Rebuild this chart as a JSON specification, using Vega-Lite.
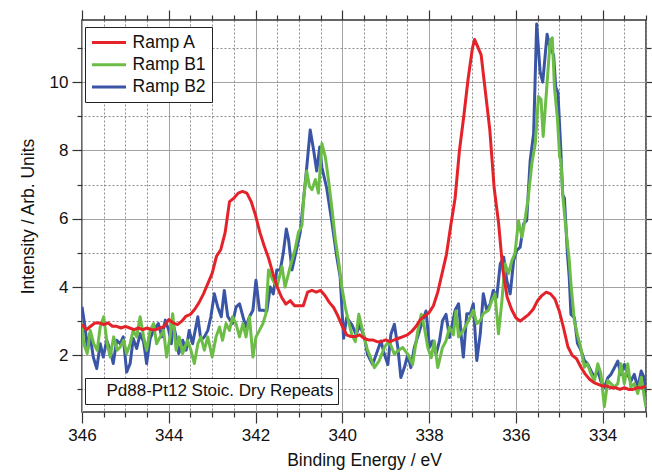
{
"$schema": "https://vega.github.io/schema/vega-lite/v6.json",
"width": 564, "height": 392,
"autosize": {"type": "none"},
"padding": {"left": 82, "top": 20, "right": 6, "bottom": 61},
"background": "white",
"config": {"font": "Liberation Sans", "view": {"stroke": "#333", "strokeWidth": 1.5},
  "axis": {"domain": false, "labelFlush": false, "labelOverlap": false, "tickColor": "#333", "tickWidth": 1.2}},
"data": {"values": [
{"s":"Ramp B2","E":346.0,"I":3.42},{"s":"Ramp B2","E":345.93,"I":2.83},{"s":"Ramp B2","E":345.87,"I":2.15},{"s":"Ramp B2","E":345.82,"I":2.63},{"s":"Ramp B2","E":345.74,"I":1.95},{"s":"Ramp B2","E":345.66,"I":1.61},{"s":"Ramp B2","E":345.58,"I":2.34},{"s":"Ramp B2","E":345.51,"I":1.95},{"s":"Ramp B2","E":345.43,"I":2.44},{"s":"Ramp B2","E":345.35,"I":2.15},{"s":"Ramp B2","E":345.28,"I":1.76},{"s":"Ramp B2","E":345.2,"I":2.44},{"s":"Ramp B2","E":345.12,"I":2.34},{"s":"Ramp B2","E":345.05,"I":2.54},{"s":"Ramp B2","E":344.97,"I":1.51},{"s":"Ramp B2","E":344.89,"I":1.76},{"s":"Ramp B2","E":344.82,"I":2.49},{"s":"Ramp B2","E":344.74,"I":2.2},{"s":"Ramp B2","E":344.66,"I":2.63},{"s":"Ramp B2","E":344.58,"I":2.39},{"s":"Ramp B2","E":344.51,"I":1.76},{"s":"Ramp B2","E":344.43,"I":2.49},{"s":"Ramp B2","E":344.35,"I":2.73},{"s":"Ramp B2","E":344.24,"I":2.93},{"s":"Ramp B2","E":344.16,"I":2.54},{"s":"Ramp B2","E":344.08,"I":3.03},{"s":"Ramp B2","E":344.0,"I":2.73},{"s":"Ramp B2","E":343.94,"I":2.34},{"s":"Ramp B2","E":343.9,"I":2.93},{"s":"Ramp B2","E":343.84,"I":2.6},{"s":"Ramp B2","E":343.77,"I":2.05},{"s":"Ramp B2","E":343.68,"I":2.44},{"s":"Ramp B2","E":343.6,"I":2.15},{"s":"Ramp B2","E":343.53,"I":2.73},{"s":"Ramp B2","E":343.45,"I":2.34},{"s":"Ramp B2","E":343.33,"I":3.13},{"s":"Ramp B2","E":343.26,"I":2.44},{"s":"Ramp B2","E":343.18,"I":2.54},{"s":"Ramp B2","E":343.1,"I":2.73},{"s":"Ramp B2","E":343.03,"I":3.13},{"s":"Ramp B2","E":342.95,"I":3.8},{"s":"Ramp B2","E":342.87,"I":3.41},{"s":"Ramp B2","E":342.79,"I":3.13},{"s":"Ramp B2","E":342.72,"I":3.9},{"s":"Ramp B2","E":342.64,"I":3.13},{"s":"Ramp B2","E":342.53,"I":2.93},{"s":"Ramp B2","E":342.45,"I":3.41},{"s":"Ramp B2","E":342.37,"I":3.51},{"s":"Ramp B2","E":342.29,"I":3.13},{"s":"Ramp B2","E":342.22,"I":2.83},{"s":"Ramp B2","E":342.14,"I":3.13},{"s":"Ramp B2","E":342.06,"I":3.32},{"s":"Ramp B2","E":341.99,"I":4.2},{"s":"Ramp B2","E":341.91,"I":3.32},{"s":"Ramp B2","E":341.83,"I":3.32},{"s":"Ramp B2","E":341.74,"I":3.3},{"s":"Ramp B2","E":341.66,"I":4.0},{"s":"Ramp B2","E":341.59,"I":3.8},{"s":"Ramp B2","E":341.51,"I":4.5},{"s":"Ramp B2","E":341.43,"I":4.5},{"s":"Ramp B2","E":341.36,"I":5.0},{"s":"Ramp B2","E":341.29,"I":5.7},{"s":"Ramp B2","E":341.24,"I":5.4},{"s":"Ramp B2","E":341.16,"I":4.5},{"s":"Ramp B2","E":341.09,"I":4.9},{"s":"Ramp B2","E":340.97,"I":5.6},{"s":"Ramp B2","E":340.89,"I":6.6},{"s":"Ramp B2","E":340.82,"I":7.5},{"s":"Ramp B2","E":340.74,"I":8.6},{"s":"Ramp B2","E":340.66,"I":8.0},{"s":"Ramp B2","E":340.59,"I":7.4},{"s":"Ramp B2","E":340.52,"I":8.1},{"s":"Ramp B2","E":340.47,"I":7.5},{"s":"Ramp B2","E":340.36,"I":6.9},{"s":"Ramp B2","E":340.24,"I":5.9},{"s":"Ramp B2","E":340.13,"I":4.9},{"s":"Ramp B2","E":340.05,"I":4.3},{"s":"Ramp B2","E":339.97,"I":2.5},{"s":"Ramp B2","E":339.9,"I":3.1},{"s":"Ramp B2","E":339.78,"I":2.9},{"s":"Ramp B2","E":339.68,"I":2.6},{"s":"Ramp B2","E":339.6,"I":2.9},{"s":"Ramp B2","E":339.49,"I":2.52},{"s":"Ramp B2","E":339.42,"I":2.03},{"s":"Ramp B2","E":339.3,"I":1.73},{"s":"Ramp B2","E":339.19,"I":2.13},{"s":"Ramp B2","E":339.11,"I":2.42},{"s":"Ramp B2","E":339.03,"I":2.03},{"s":"Ramp B2","E":338.95,"I":1.73},{"s":"Ramp B2","E":338.88,"I":2.62},{"s":"Ramp B2","E":338.8,"I":2.91},{"s":"Ramp B2","E":338.72,"I":2.23},{"s":"Ramp B2","E":338.65,"I":1.35},{"s":"Ramp B2","E":338.57,"I":1.64},{"s":"Ramp B2","E":338.49,"I":2.03},{"s":"Ramp B2","E":338.42,"I":1.64},{"s":"Ramp B2","E":338.34,"I":2.23},{"s":"Ramp B2","E":338.22,"I":2.72},{"s":"Ramp B2","E":338.15,"I":3.01},{"s":"Ramp B2","E":338.07,"I":3.3},{"s":"Ramp B2","E":337.99,"I":2.23},{"s":"Ramp B2","E":337.92,"I":2.42},{"s":"Ramp B2","E":337.84,"I":2.03},{"s":"Ramp B2","E":337.76,"I":2.42},{"s":"Ramp B2","E":337.69,"I":3.01},{"s":"Ramp B2","E":337.61,"I":3.2},{"s":"Ramp B2","E":337.53,"I":2.52},{"s":"Ramp B2","E":337.45,"I":3.01},{"s":"Ramp B2","E":337.4,"I":3.32},{"s":"Ramp B2","E":337.32,"I":3.51},{"s":"Ramp B2","E":337.25,"I":2.44},{"s":"Ramp B2","E":337.21,"I":1.95},{"s":"Ramp B2","E":337.13,"I":3.22},{"s":"Ramp B2","E":337.05,"I":3.22},{"s":"Ramp B2","E":336.98,"I":3.51},{"s":"Ramp B2","E":336.9,"I":1.85},{"s":"Ramp B2","E":336.82,"I":2.63},{"s":"Ramp B2","E":336.75,"I":3.8},{"s":"Ramp B2","E":336.67,"I":3.32},{"s":"Ramp B2","E":336.59,"I":3.51},{"s":"Ramp B2","E":336.52,"I":3.9},{"s":"Ramp B2","E":336.44,"I":3.7},{"s":"Ramp B2","E":336.36,"I":4.68},{"s":"Ramp B2","E":336.28,"I":4.88},{"s":"Ramp B2","E":336.21,"I":4.2},{"s":"Ramp B2","E":336.13,"I":3.8},{"s":"Ramp B2","E":336.05,"I":4.78},{"s":"Ramp B2","E":335.98,"I":5.07},{"s":"Ramp B2","E":335.9,"I":5.17},{"s":"Ramp B2","E":335.82,"I":5.85},{"s":"Ramp B2","E":335.75,"I":5.95},{"s":"Ramp B2","E":335.67,"I":7.7},{"s":"Ramp B2","E":335.59,"I":8.5},{"s":"Ramp B2","E":335.52,"I":11.7},{"s":"Ramp B2","E":335.44,"I":10.3},{"s":"Ramp B2","E":335.38,"I":10.0},{"s":"Ramp B2","E":335.28,"I":11.4},{"s":"Ramp B2","E":335.21,"I":11.0},{"s":"Ramp B2","E":335.13,"I":10.8},{"s":"Ramp B2","E":335.08,"I":9.85},{"s":"Ramp B2","E":335.03,"I":9.7},{"s":"Ramp B2","E":334.97,"I":8.2},{"s":"Ramp B2","E":334.92,"I":6.7},{"s":"Ramp B2","E":334.88,"I":6.6},{"s":"Ramp B2","E":334.81,"I":4.95},{"s":"Ramp B2","E":334.77,"I":4.3},{"s":"Ramp B2","E":334.73,"I":3.2},{"s":"Ramp B2","E":334.65,"I":3.1},{"s":"Ramp B2","E":334.58,"I":2.35},{"s":"Ramp B2","E":334.5,"I":2.15},{"s":"Ramp B2","E":334.42,"I":1.85},{"s":"Ramp B2","E":334.35,"I":1.76},{"s":"Ramp B2","E":334.27,"I":1.55},{"s":"Ramp B2","E":334.19,"I":1.35},{"s":"Ramp B2","E":334.11,"I":1.55},{"s":"Ramp B2","E":334.04,"I":1.24},{"s":"Ramp B2","E":333.96,"I":1.05},{"s":"Ramp B2","E":333.88,"I":1.34},{"s":"Ramp B2","E":333.81,"I":1.44},{"s":"Ramp B2","E":333.73,"I":1.63},{"s":"Ramp B2","E":333.65,"I":1.83},{"s":"Ramp B2","E":333.58,"I":1.44},{"s":"Ramp B2","E":333.5,"I":1.73},{"s":"Ramp B2","E":333.42,"I":1.44},{"s":"Ramp B2","E":333.35,"I":1.24},{"s":"Ramp B2","E":333.27,"I":1.44},{"s":"Ramp B2","E":333.19,"I":1.05},{"s":"Ramp B2","E":333.11,"I":1.54},{"s":"Ramp B2","E":333.04,"I":1.34},{"s":"Ramp B2","E":333.0,"I":0.7},
{"s":"Ramp B1","E":346.0,"I":2.93},{"s":"Ramp B1","E":345.96,"I":2.34},{"s":"Ramp B1","E":345.88,"I":2.05},{"s":"Ramp B1","E":345.81,"I":2.73},{"s":"Ramp B1","E":345.73,"I":2.34},{"s":"Ramp B1","E":345.65,"I":2.15},{"s":"Ramp B1","E":345.58,"I":2.83},{"s":"Ramp B1","E":345.5,"I":3.13},{"s":"Ramp B1","E":345.42,"I":2.34},{"s":"Ramp B1","E":345.35,"I":1.95},{"s":"Ramp B1","E":345.27,"I":2.54},{"s":"Ramp B1","E":345.19,"I":2.15},{"s":"Ramp B1","E":345.12,"I":2.24},{"s":"Ramp B1","E":345.04,"I":2.44},{"s":"Ramp B1","E":344.97,"I":2.05},{"s":"Ramp B1","E":344.89,"I":2.34},{"s":"Ramp B1","E":344.82,"I":2.73},{"s":"Ramp B1","E":344.74,"I":2.54},{"s":"Ramp B1","E":344.66,"I":3.13},{"s":"Ramp B1","E":344.58,"I":2.54},{"s":"Ramp B1","E":344.51,"I":2.15},{"s":"Ramp B1","E":344.43,"I":2.73},{"s":"Ramp B1","E":344.35,"I":2.93},{"s":"Ramp B1","E":344.28,"I":2.34},{"s":"Ramp B1","E":344.2,"I":2.54},{"s":"Ramp B1","E":344.12,"I":2.73},{"s":"Ramp B1","E":344.05,"I":1.95},{"s":"Ramp B1","E":343.97,"I":2.54},{"s":"Ramp B1","E":343.91,"I":3.22},{"s":"Ramp B1","E":343.83,"I":2.15},{"s":"Ramp B1","E":343.76,"I":2.54},{"s":"Ramp B1","E":343.68,"I":2.05},{"s":"Ramp B1","E":343.57,"I":2.44},{"s":"Ramp B1","E":343.49,"I":2.15},{"s":"Ramp B1","E":343.41,"I":1.76},{"s":"Ramp B1","E":343.33,"I":2.34},{"s":"Ramp B1","E":343.26,"I":2.54},{"s":"Ramp B1","E":343.18,"I":2.15},{"s":"Ramp B1","E":343.1,"I":2.54},{"s":"Ramp B1","E":343.0,"I":1.95},{"s":"Ramp B1","E":342.91,"I":2.54},{"s":"Ramp B1","E":342.83,"I":2.83},{"s":"Ramp B1","E":342.76,"I":2.44},{"s":"Ramp B1","E":342.68,"I":2.93},{"s":"Ramp B1","E":342.6,"I":2.73},{"s":"Ramp B1","E":342.53,"I":3.13},{"s":"Ramp B1","E":342.45,"I":2.93},{"s":"Ramp B1","E":342.37,"I":2.54},{"s":"Ramp B1","E":342.29,"I":2.93},{"s":"Ramp B1","E":342.22,"I":2.54},{"s":"Ramp B1","E":342.14,"I":3.13},{"s":"Ramp B1","E":342.06,"I":1.95},{"s":"Ramp B1","E":341.99,"I":2.54},{"s":"Ramp B1","E":341.91,"I":2.73},{"s":"Ramp B1","E":341.83,"I":2.93},{"s":"Ramp B1","E":341.76,"I":3.22},{"s":"Ramp B1","E":341.7,"I":4.5},{"s":"Ramp B1","E":341.6,"I":4.2},{"s":"Ramp B1","E":341.51,"I":4.0},{"s":"Ramp B1","E":341.39,"I":4.6},{"s":"Ramp B1","E":341.32,"I":4.0},{"s":"Ramp B1","E":341.2,"I":4.6},{"s":"Ramp B1","E":341.09,"I":5.1},{"s":"Ramp B1","E":341.01,"I":5.6},{"s":"Ramp B1","E":340.93,"I":5.8},{"s":"Ramp B1","E":340.89,"I":6.6},{"s":"Ramp B1","E":340.82,"I":7.4},{"s":"Ramp B1","E":340.76,"I":6.95},{"s":"Ramp B1","E":340.7,"I":6.85},{"s":"Ramp B1","E":340.62,"I":7.15},{"s":"Ramp B1","E":340.55,"I":6.75},{"s":"Ramp B1","E":340.47,"I":8.2},{"s":"Ramp B1","E":340.39,"I":7.8},{"s":"Ramp B1","E":340.32,"I":7.15},{"s":"Ramp B1","E":340.24,"I":6.3},{"s":"Ramp B1","E":340.16,"I":5.4},{"s":"Ramp B1","E":340.09,"I":4.8},{"s":"Ramp B1","E":340.01,"I":4.0},{"s":"Ramp B1","E":339.93,"I":3.4},{"s":"Ramp B1","E":339.86,"I":3.0},{"s":"Ramp B1","E":339.78,"I":2.6},{"s":"Ramp B1","E":339.7,"I":2.4},{"s":"Ramp B1","E":339.62,"I":3.2},{"s":"Ramp B1","E":339.51,"I":2.6},{"s":"Ramp B1","E":339.43,"I":2.2},{"s":"Ramp B1","E":339.26,"I":1.64},{"s":"Ramp B1","E":339.15,"I":1.84},{"s":"Ramp B1","E":339.03,"I":2.23},{"s":"Ramp B1","E":338.92,"I":2.42},{"s":"Ramp B1","E":338.8,"I":2.03},{"s":"Ramp B1","E":338.72,"I":2.13},{"s":"Ramp B1","E":338.61,"I":2.23},{"s":"Ramp B1","E":338.49,"I":2.03},{"s":"Ramp B1","E":338.38,"I":1.73},{"s":"Ramp B1","E":338.26,"I":2.72},{"s":"Ramp B1","E":338.18,"I":3.2},{"s":"Ramp B1","E":338.11,"I":2.82},{"s":"Ramp B1","E":338.03,"I":2.23},{"s":"Ramp B1","E":337.95,"I":1.93},{"s":"Ramp B1","E":337.88,"I":2.42},{"s":"Ramp B1","E":337.8,"I":1.64},{"s":"Ramp B1","E":337.69,"I":2.23},{"s":"Ramp B1","E":337.61,"I":2.42},{"s":"Ramp B1","E":337.53,"I":2.82},{"s":"Ramp B1","E":337.44,"I":2.6},{"s":"Ramp B1","E":337.38,"I":3.3},{"s":"Ramp B1","E":337.32,"I":2.54},{"s":"Ramp B1","E":337.21,"I":2.73},{"s":"Ramp B1","E":337.09,"I":3.02},{"s":"Ramp B1","E":336.98,"I":3.32},{"s":"Ramp B1","E":336.9,"I":2.93},{"s":"Ramp B1","E":336.82,"I":3.02},{"s":"Ramp B1","E":336.75,"I":3.22},{"s":"Ramp B1","E":336.63,"I":3.32},{"s":"Ramp B1","E":336.55,"I":3.61},{"s":"Ramp B1","E":336.48,"I":3.8},{"s":"Ramp B1","E":336.4,"I":2.63},{"s":"Ramp B1","E":336.32,"I":3.61},{"s":"Ramp B1","E":336.25,"I":4.68},{"s":"Ramp B1","E":336.17,"I":4.39},{"s":"Ramp B1","E":336.09,"I":4.78},{"s":"Ramp B1","E":336.02,"I":4.98},{"s":"Ramp B1","E":335.94,"I":5.95},{"s":"Ramp B1","E":335.86,"I":5.46},{"s":"Ramp B1","E":335.78,"I":6.05},{"s":"Ramp B1","E":335.71,"I":6.66},{"s":"Ramp B1","E":335.63,"I":7.63},{"s":"Ramp B1","E":335.55,"I":8.22},{"s":"Ramp B1","E":335.48,"I":9.58},{"s":"Ramp B1","E":335.42,"I":9.5},{"s":"Ramp B1","E":335.37,"I":8.41},{"s":"Ramp B1","E":335.28,"I":9.97},{"s":"Ramp B1","E":335.21,"I":11.2},{"s":"Ramp B1","E":335.16,"I":11.3},{"s":"Ramp B1","E":335.11,"I":9.85},{"s":"Ramp B1","E":335.04,"I":8.9},{"s":"Ramp B1","E":334.99,"I":7.8},{"s":"Ramp B1","E":334.96,"I":7.7},{"s":"Ramp B1","E":334.92,"I":6.7},{"s":"Ramp B1","E":334.85,"I":5.75},{"s":"Ramp B1","E":334.77,"I":4.8},{"s":"Ramp B1","E":334.73,"I":4.1},{"s":"Ramp B1","E":334.65,"I":3.0},{"s":"Ramp B1","E":334.58,"I":2.6},{"s":"Ramp B1","E":334.5,"I":2.2},{"s":"Ramp B1","E":334.42,"I":1.65},{"s":"Ramp B1","E":334.35,"I":1.75},{"s":"Ramp B1","E":334.27,"I":1.46},{"s":"Ramp B1","E":334.19,"I":1.26},{"s":"Ramp B1","E":334.11,"I":1.75},{"s":"Ramp B1","E":334.04,"I":1.46},{"s":"Ramp B1","E":333.96,"I":0.5},{"s":"Ramp B1","E":333.88,"I":1.26},{"s":"Ramp B1","E":333.81,"I":1.17},{"s":"Ramp B1","E":333.73,"I":1.07},{"s":"Ramp B1","E":333.65,"I":1.17},{"s":"Ramp B1","E":333.58,"I":1.75},{"s":"Ramp B1","E":333.5,"I":1.17},{"s":"Ramp B1","E":333.42,"I":1.75},{"s":"Ramp B1","E":333.35,"I":1.07},{"s":"Ramp B1","E":333.27,"I":1.17},{"s":"Ramp B1","E":333.19,"I":0.88},{"s":"Ramp B1","E":333.11,"I":1.36},{"s":"Ramp B1","E":333.04,"I":0.78},{"s":"Ramp B1","E":333.0,"I":0.48},
{"s":"Ramp A","E":346.0,"I":2.9},{"s":"Ramp A","E":345.9,"I":2.75},{"s":"Ramp A","E":345.8,"I":2.85},{"s":"Ramp A","E":345.7,"I":2.95},{"s":"Ramp A","E":345.6,"I":2.95},{"s":"Ramp A","E":345.5,"I":2.9},{"s":"Ramp A","E":345.4,"I":2.95},{"s":"Ramp A","E":345.3,"I":2.85},{"s":"Ramp A","E":345.2,"I":2.85},{"s":"Ramp A","E":345.1,"I":2.8},{"s":"Ramp A","E":345.0,"I":2.85},{"s":"Ramp A","E":344.9,"I":2.8},{"s":"Ramp A","E":344.8,"I":2.75},{"s":"Ramp A","E":344.7,"I":2.8},{"s":"Ramp A","E":344.6,"I":2.75},{"s":"Ramp A","E":344.5,"I":2.8},{"s":"Ramp A","E":344.4,"I":2.75},{"s":"Ramp A","E":344.3,"I":2.75},{"s":"Ramp A","E":344.2,"I":2.8},{"s":"Ramp A","E":344.1,"I":2.85},{"s":"Ramp A","E":344.0,"I":3.05},{"s":"Ramp A","E":343.9,"I":2.95},{"s":"Ramp A","E":343.8,"I":2.9},{"s":"Ramp A","E":343.7,"I":3.0},{"s":"Ramp A","E":343.6,"I":3.15},{"s":"Ramp A","E":343.5,"I":3.2},{"s":"Ramp A","E":343.4,"I":3.35},{"s":"Ramp A","E":343.3,"I":3.55},{"s":"Ramp A","E":343.2,"I":3.8},{"s":"Ramp A","E":343.1,"I":4.1},{"s":"Ramp A","E":343.0,"I":4.4},{"s":"Ramp A","E":342.9,"I":4.9},{"s":"Ramp A","E":342.8,"I":5.1},{"s":"Ramp A","E":342.7,"I":5.6},{"s":"Ramp A","E":342.6,"I":6.5},{"s":"Ramp A","E":342.5,"I":6.6},{"s":"Ramp A","E":342.4,"I":6.75},{"s":"Ramp A","E":342.3,"I":6.8},{"s":"Ramp A","E":342.2,"I":6.75},{"s":"Ramp A","E":342.1,"I":6.5},{"s":"Ramp A","E":342.0,"I":6.1},{"s":"Ramp A","E":341.9,"I":5.6},{"s":"Ramp A","E":341.8,"I":5.2},{"s":"Ramp A","E":341.7,"I":4.85},{"s":"Ramp A","E":341.6,"I":4.4},{"s":"Ramp A","E":341.5,"I":4.0},{"s":"Ramp A","E":341.4,"I":3.7},{"s":"Ramp A","E":341.3,"I":3.5},{"s":"Ramp A","E":341.2,"I":3.6},{"s":"Ramp A","E":341.1,"I":3.45},{"s":"Ramp A","E":341.0,"I":3.45},{"s":"Ramp A","E":340.9,"I":3.45},{"s":"Ramp A","E":340.8,"I":3.85},{"s":"Ramp A","E":340.7,"I":3.9},{"s":"Ramp A","E":340.6,"I":3.85},{"s":"Ramp A","E":340.5,"I":3.9},{"s":"Ramp A","E":340.4,"I":3.75},{"s":"Ramp A","E":340.3,"I":3.55},{"s":"Ramp A","E":340.2,"I":3.4},{"s":"Ramp A","E":340.1,"I":3.15},{"s":"Ramp A","E":340.0,"I":2.85},{"s":"Ramp A","E":339.9,"I":2.6},{"s":"Ramp A","E":339.8,"I":2.55},{"s":"Ramp A","E":339.7,"I":2.55},{"s":"Ramp A","E":339.6,"I":2.6},{"s":"Ramp A","E":339.5,"I":2.5},{"s":"Ramp A","E":339.4,"I":2.45},{"s":"Ramp A","E":339.3,"I":2.45},{"s":"Ramp A","E":339.2,"I":2.4},{"s":"Ramp A","E":339.1,"I":2.4},{"s":"Ramp A","E":339.0,"I":2.45},{"s":"Ramp A","E":338.9,"I":2.4},{"s":"Ramp A","E":338.8,"I":2.45},{"s":"Ramp A","E":338.7,"I":2.5},{"s":"Ramp A","E":338.6,"I":2.55},{"s":"Ramp A","E":338.5,"I":2.6},{"s":"Ramp A","E":338.4,"I":2.7},{"s":"Ramp A","E":338.3,"I":2.85},{"s":"Ramp A","E":338.2,"I":3.05},{"s":"Ramp A","E":338.1,"I":3.15},{"s":"Ramp A","E":338.0,"I":3.25},{"s":"Ramp A","E":337.9,"I":3.45},{"s":"Ramp A","E":337.8,"I":3.85},{"s":"Ramp A","E":337.7,"I":4.4},{"s":"Ramp A","E":337.6,"I":4.95},{"s":"Ramp A","E":337.5,"I":5.8},{"s":"Ramp A","E":337.4,"I":6.6},{"s":"Ramp A","E":337.3,"I":8.0},{"s":"Ramp A","E":337.2,"I":9.0},{"s":"Ramp A","E":337.1,"I":10.1},{"s":"Ramp A","E":337.0,"I":11.0},{"s":"Ramp A","E":336.95,"I":11.25},{"s":"Ramp A","E":336.9,"I":11.1},{"s":"Ramp A","E":336.8,"I":10.8},{"s":"Ramp A","E":336.7,"I":9.7},{"s":"Ramp A","E":336.6,"I":8.6},{"s":"Ramp A","E":336.5,"I":6.9},{"s":"Ramp A","E":336.4,"I":5.9},{"s":"Ramp A","E":336.3,"I":4.5},{"s":"Ramp A","E":336.2,"I":3.7},{"s":"Ramp A","E":336.1,"I":3.35},{"s":"Ramp A","E":336.0,"I":3.1},{"s":"Ramp A","E":335.9,"I":3.0},{"s":"Ramp A","E":335.8,"I":3.1},{"s":"Ramp A","E":335.7,"I":3.2},{"s":"Ramp A","E":335.6,"I":3.35},{"s":"Ramp A","E":335.5,"I":3.6},{"s":"Ramp A","E":335.4,"I":3.75},{"s":"Ramp A","E":335.3,"I":3.85},{"s":"Ramp A","E":335.2,"I":3.8},{"s":"Ramp A","E":335.1,"I":3.65},{"s":"Ramp A","E":335.0,"I":3.3},{"s":"Ramp A","E":334.9,"I":2.8},{"s":"Ramp A","E":334.8,"I":2.25},{"s":"Ramp A","E":334.7,"I":2.0},{"s":"Ramp A","E":334.6,"I":1.9},{"s":"Ramp A","E":334.5,"I":1.65},{"s":"Ramp A","E":334.4,"I":1.45},{"s":"Ramp A","E":334.3,"I":1.3},{"s":"Ramp A","E":334.2,"I":1.2},{"s":"Ramp A","E":334.1,"I":1.15},{"s":"Ramp A","E":334.0,"I":1.1},{"s":"Ramp A","E":333.9,"I":1.1},{"s":"Ramp A","E":333.8,"I":1.05},{"s":"Ramp A","E":333.7,"I":1.05},{"s":"Ramp A","E":333.6,"I":1.0},{"s":"Ramp A","E":333.5,"I":1.05},{"s":"Ramp A","E":333.4,"I":1.0},{"s":"Ramp A","E":333.3,"I":1.0},{"s":"Ramp A","E":333.2,"I":1.05},{"s":"Ramp A","E":333.1,"I":1.05},{"s":"Ramp A","E":333.0,"I":1.1}
]},
"layer": [
 {"mark": {"type": "line", "opacity": 0},
  "encoding": {
   "x": {"field": "E", "type": "quantitative", "scale": {"domain": [333, 346], "reverse": true, "nice": false, "zero": false},
     "axis": {"orient": "bottom", "values": [345.5,345,344.5,343.5,343,342.5,341.5,341,340.5,339.5,339,338.5,337.5,337,336.5,335.5,335,334.5,333.5,333], "labels": false, "tickSize": 5, "grid": true, "gridColor": "#8c8c8c", "gridDash": [2, 2], "gridWidth": 1, "title": null}},
   "y": {"field": "I", "type": "quantitative", "scale": {"domain": [0.34, 11.82], "nice": false, "zero": false},
     "axis": {"orient": "left", "values": [1,3,5,7,9,11], "labels": false, "tickSize": 5, "grid": true, "gridColor": "#8c8c8c", "gridDash": [2, 2], "gridWidth": 1, "title": null}}
  }},
 {"mark": {"type": "line", "opacity": 0},
  "encoding": {
   "x": {"field": "E", "type": "quantitative", "scale": {"domain": [333, 346], "reverse": true, "nice": false, "zero": false},
     "axis": {"orient": "top", "values": [346,344,342,340,338,336,334], "labels": false, "tickSize": 10, "grid": false, "title": null}},
   "y": {"field": "I", "type": "quantitative", "scale": {"domain": [0.34, 11.82], "nice": false, "zero": false},
     "axis": {"orient": "right", "values": [2,4,6,8,10], "labels": false, "tickSize": 10, "grid": false, "title": null}}
  }},
 {"mark": {"type": "line", "opacity": 0},
  "encoding": {
   "x": {"field": "E", "type": "quantitative", "scale": {"domain": [333, 346], "reverse": true, "nice": false, "zero": false},
     "axis": {"orient": "top", "values": [345.5,345,344.5,343.5,343,342.5,341.5,341,340.5,339.5,339,338.5,337.5,337,336.5,335.5,335,334.5,333.5,333], "labels": false, "tickSize": 5, "grid": false, "title": null}},
   "y": {"field": "I", "type": "quantitative", "scale": {"domain": [0.34, 11.82], "nice": false, "zero": false},
     "axis": {"orient": "right", "values": [1,3,5,7,9,11], "labels": false, "tickSize": 5, "grid": false, "title": null}}
  }},
 {"mark": {"type": "line", "strokeWidth": 3, "clip": true, "strokeJoin": "round"},
  "encoding": {
   "x": {"field": "E", "type": "quantitative", "scale": {"domain": [333, 346], "reverse": true, "nice": false, "zero": false},
     "axis": {"orient": "bottom", "values": [346,344,342,340,338,336,334], "format": "d", "tickSize": 11, "grid": true, "gridColor": "#a3a3a3", "gridWidth": 1, "labelFontSize": 17, "labelColor": "#111", "labelPadding": 4, "title": "Binding Energy / eV", "titleFontSize": 17.5, "titleFontWeight": "normal", "titleColor": "#111", "titlePadding": 8}},
   "y": {"field": "I", "type": "quantitative", "scale": {"domain": [0.34, 11.82], "nice": false, "zero": false},
     "axis": {"orient": "left", "values": [2,4,6,8,10], "format": "d", "tickSize": 10, "grid": true, "gridColor": "#a3a3a3", "gridWidth": 1, "labelFontSize": 17, "labelColor": "#111", "labelPadding": 4, "title": "Intensity / Arb. Units", "titleFontSize": 17.5, "titleFontWeight": "normal", "titleColor": "#111", "titlePadding": 12}},
   "color": {"field": "s", "type": "nominal", "sort": ["Ramp A", "Ramp B1", "Ramp B2"],
     "scale": {"domain": ["Ramp A", "Ramp B1", "Ramp B2"], "range": ["#e4222a", "#6cbd46", "#3a55a5"]},
     "legend": {"orient": "none", "legendX": 3, "legendY": 7, "title": null, "symbolType": "M-2,0H2", "symbolSize": 289, "symbolOffset": 8.5, "symbolStrokeWidth": 3, "labelFontSize": 17.5, "labelColor": "#111", "labelLimit": 400, "labelOffset": 13.6, "rowPadding": 3.3, "padding": 5.5, "strokeColor": "#222", "fillColor": "white", "cornerRadius": 0}}
  }},
 {"data": {"values": [{"note": "Pd88-Pt12 Stoic. Dry Repeats"}]},
  "mark": {"type": "point", "opacity": 0},
  "encoding": {
   "shape": {"field": "note", "type": "nominal",
     "legend": {"orient": "none", "legendX": 3, "legendY": 358, "title": null, "symbolSize": 0, "symbolOpacity": 0, "symbolStrokeWidth": 0, "labelOffset": 0, "labelFontSize": 17, "labelColor": "#111", "labelLimit": 400, "padding": 4.5, "strokeColor": "#222", "fillColor": "white", "cornerRadius": 0}}
  }}
],
"resolve": {"axis": {"x": "independent", "y": "independent"}}
}
